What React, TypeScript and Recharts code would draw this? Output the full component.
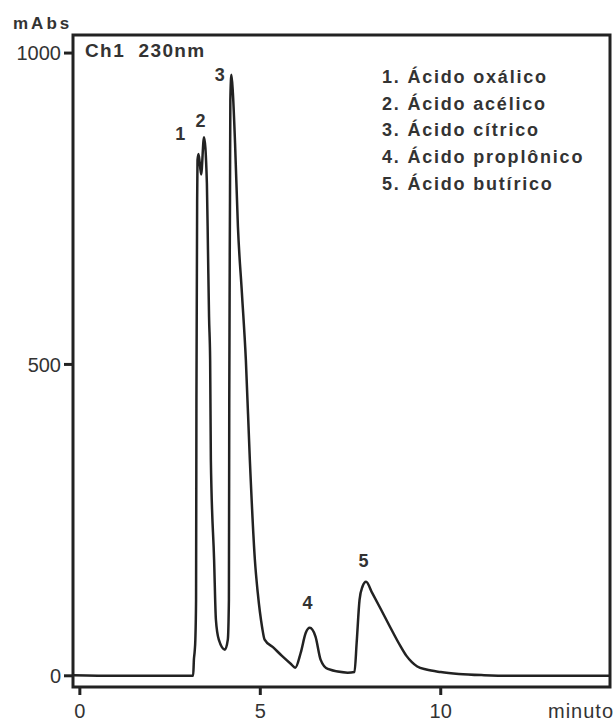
import { LineChart, Line, XAxis, YAxis, ReferenceArea, ReferenceDot } from 'recharts';

// chromatogram trace
const times = [
  -0.19, 1.0, 2.0, 3.0, 3.14, 3.16, 3.18, 3.2, 3.22, 3.23, 3.25, 3.26, 3.29, 3.36, 3.44,
  3.52, 3.55, 3.58, 3.61, 3.63, 3.72, 3.77, 3.85, 4.02, 4.1, 4.13, 4.14, 4.16, 4.17, 4.2,
  4.24, 4.3, 4.38, 4.49, 4.6, 4.71, 4.85, 4.93, 5.05, 5.12, 5.35, 5.6, 5.85, 5.97,
  6.12, 6.26, 6.37, 6.53, 6.67, 6.87, 7.42, 7.61, 7.67, 7.75, 7.83, 7.93,
  8.1, 8.33, 8.6, 8.88, 9.05, 9.2, 9.35, 9.6, 10.0, 10.5, 11.2, 12.0, 14.69,
];
const absorbance = [
  1, 0, 0, 0, 0, 26, 38, 58, 122, 443, 764, 828, 838, 805, 865,
  791, 684, 576, 507, 347, 186, 90, 58, 42, 58, 122, 443, 764, 925, 965,
  936, 856, 721, 615, 507, 347, 186, 133, 78, 58, 46, 32, 19, 13,
  37, 69, 77, 63, 26, 11, 5, 6, 53, 122, 143, 151,
  133, 108, 78, 48, 32, 22, 15, 10, 6, 3, 1, 0, 0,
];

// peak numbers and where their labels sit (data coordinates)
const peakLabels = ['1', '2', '3', '4', '5'];
const labelTimes = [2.78, 3.34, 3.88, 6.31, 7.86];
const labelLevels = [870, 892, 966, 117, 185];

const legendLines = [
  '1. Ácido oxálico',
  '2. Ácido acélico',
  '3. Ácido cítrico',
  '4. Ácido proplônico',
  '5. Ácido butírico',
];

const xTicks = [0, 5, 10];
const yTicks = [0, 500, 1000];
const xDomain = [-0.19, 14.69];
const yDomain = [-18, 1029];

const data = times.map((t, i) => ({ t, v: absorbance[i] }));

const font = '"Liberation Sans", Arial, sans-serif';
const ink = '#222';
const textColor = '#333';

export default function App() {
  return (
    <div style={{ position: 'absolute', left: 0, top: 0, width: 615, height: 721, fontFamily: font, background: '#fff' }}>
      <LineChart width={615} height={721} data={data} margin={{ top: 35, right: 5, left: 0, bottom: 0 }}>
        <XAxis
          dataKey="t"
          type="number"
          domain={xDomain}
          ticks={xTicks}
          allowDataOverflow
          axisLine={false}
          tickSize={8}
          tickMargin={9}
          height={34}
          tickLine={{ stroke: ink, strokeWidth: 3 }}
          tick={{ fontSize: 20, fill: textColor, fontFamily: font }}
        />
        <YAxis
          type="number"
          domain={yDomain}
          ticks={yTicks}
          allowDataOverflow
          axisLine={false}
          width={73}
          tickSize={9}
          tickMargin={3}
          tickLine={{ stroke: ink, strokeWidth: 3 }}
          tick={{ fontSize: 20, fill: textColor, fontFamily: font }}
        />
        <ReferenceArea
          x1={xDomain[0]}
          x2={xDomain[1]}
          y1={yDomain[0]}
          y2={yDomain[1]}
          fill="none"
          fillOpacity={0}
          stroke={ink}
          strokeWidth={3}
        />
        <Line
          type="monotone"
          dataKey="v"
          stroke={ink}
          strokeWidth={2.5}
          dot={false}
          isAnimationActive={false}
        />
        {peakLabels.map((p, i) => (
          <ReferenceDot
            key={p}
            x={labelTimes[i]}
            y={labelLevels[i]}
            r={0}
            stroke="none"
            fill="none"
            label={{ value: p, position: 'center', fontSize: 18, fontWeight: 'bold', fill: textColor, fontFamily: font }}
          />
        ))}
      </LineChart>

      <div style={{ position: 'absolute', left: 13, top: 15, fontSize: 17, lineHeight: 1, fontWeight: 'bold', letterSpacing: 3, color: textColor }}>
        mAbs
      </div>
      <div style={{ position: 'absolute', left: 85, top: 41, fontSize: 19, lineHeight: 1, fontWeight: 'bold', letterSpacing: 1.4, color: textColor, whiteSpace: 'pre' }}>
        {'Ch1  230nm'}
      </div>
      <div style={{ position: 'absolute', left: 382, top: 64, fontSize: 18, lineHeight: '26.7px', fontWeight: 'bold', letterSpacing: 1.8, color: textColor, whiteSpace: 'pre' }}>
        {legendLines.map((l) => (
          <div key={l} style={{ height: 26.7 }}>{l}</div>
        ))}
      </div>
      <div style={{ position: 'absolute', left: 548, top: 701, fontSize: 20, lineHeight: 1, letterSpacing: 1, color: textColor }}>
        minuto
      </div>
    </div>
  );
}
